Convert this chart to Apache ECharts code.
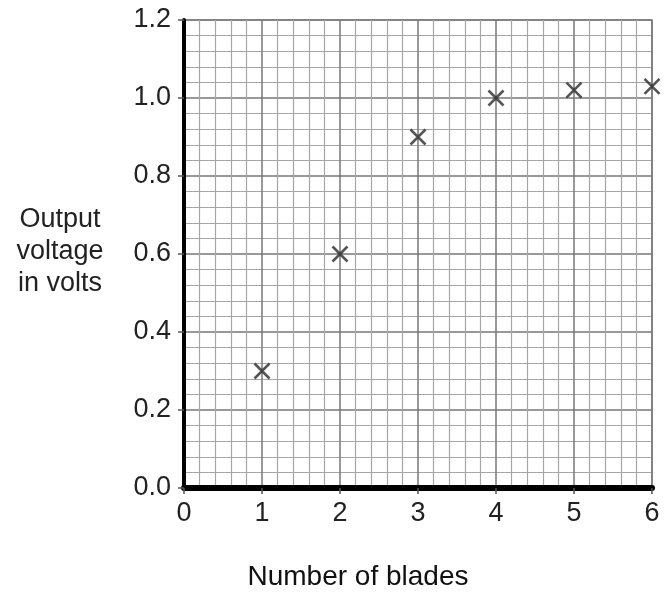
<!DOCTYPE html>
<html>
<head>
<meta charset="utf-8">
<script src="https://cdn.jsdelivr.net/npm/echarts@6/dist/echarts.min.js"></script>
<style>
  html, body { margin: 0; padding: 0; background: #fff; }
  #chart { width: 664px; height: 595px; }
</style>
</head>
<body>
<div id="chart"></div>
<script>
// number of blades vs output voltage
const blades = [1, 2, 3, 4, 5, 6];
const voltage = [0.30, 0.60, 0.90, 1.00, 1.02, 1.03];
const xTicks = ['0', '1', '2', '3', '4', '5', '6'];

const FONT = 'Liberation Sans, Arial, sans-serif';
const chart = echarts.init(document.getElementById('chart'));

const points = blades.map((b, i) => [b, voltage[i]]);

chart.setOption({
  animation: false,
  grid: {
    left: 184,
    right: 12,
    top: 20,
    bottom: 107,
    show: true,
    borderColor: '#8a8a8a',
    borderWidth: 1.5
  },
  xAxis: {
    type: 'value',
    min: 0,
    max: 6,
    interval: 1,
    axisLine: { show: true, onZero: false, lineStyle: { color: '#000', width: 6 } },
    axisTick: { show: true, length: 6, lineStyle: { color: '#555', width: 1.5 } },
    axisLabel: {
      margin: 12,
      fontSize: 27,
      color: '#222',
      fontFamily: FONT,
      formatter: v => xTicks[v]
    },
    splitLine: { show: true, lineStyle: { color: '#777', width: 1.5 } },
    minorTick: { show: false, splitNumber: 5 },
    minorSplitLine: { show: true, lineStyle: { color: '#a6a6a6', width: 1.2 } }
  },
  yAxis: {
    type: 'value',
    min: 0,
    max: 1.2,
    interval: 0.2,
    axisLine: { show: true, onZero: false, lineStyle: { color: '#000', width: 4 } },
    axisTick: { show: true, length: 6, lineStyle: { color: '#555', width: 1.5 } },
    axisLabel: {
      margin: 13,
      fontSize: 27,
      color: '#222',
      fontFamily: FONT,
      formatter: v => v.toFixed(1)
    },
    splitLine: { show: true, lineStyle: { color: '#777', width: 1.5 } },
    minorTick: { show: false, splitNumber: 5 },
    minorSplitLine: { show: true, lineStyle: { color: '#a6a6a6', width: 1.2 } }
  },
  series: [
    {
      type: 'scatter',
      data: points,
      symbol: 'path://M0,0L10,10M10,0L0,10',
      symbolSize: 15,
      itemStyle: { color: 'none', borderColor: '#2a2a2a', borderWidth: 2.6 },
      z: 10
    }
  ],
  graphic: [
    {
      type: 'text',
      x: 358,
      y: 577,
      style: {
        text: 'Number of blades',
        fontSize: 28,
        align: 'center',
        verticalAlign: 'middle',
        fill: '#111',
        fontFamily: FONT
      }
    },
    {
      type: 'text',
      x: 60,
      y: 252,
      style: {
        text: 'Output\nvoltage\nin volts',
        fontSize: 27,
        lineHeight: 32,
        align: 'center',
        verticalAlign: 'middle',
        fill: '#222',
        fontFamily: FONT
      }
    }
  ]
});
</script>
</body>
</html>
